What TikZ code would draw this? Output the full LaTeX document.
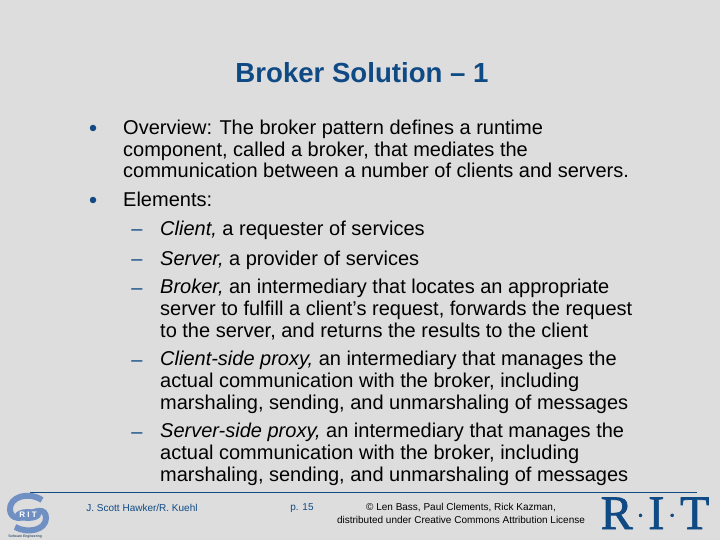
\documentclass[tikz,border=0pt]{standalone}
\usepackage{fontspec}
\setmainfont{Liberation Sans}
\newfontfamily\ritfont[FakeBold=1.5]{Liberation Serif}
\definecolor{slidebg}{HTML}{DDDDDD}
\definecolor{ritblue}{HTML}{104A85}
\definecolor{logoblue}{HTML}{7090C4}
\newcommand{\bodyfont}{\fontsize{20}{21.6}\selectfont}
\newcommand{\footfont}{\fontsize{10}{12.5}\selectfont}
\newcommand{\ritdot}{\hspace{3.5pt}\raisebox{5pt}{\fontsize{26}{26}\selectfont·}\hspace{3.5pt}}
\tikzset{
  bodytext/.style = {anchor=base west, inner sep=0pt, align=left, font=\bodyfont, text=black},
  foottext/.style = {anchor=base, inner sep=0pt, align=center, font=\footfont},
  dotmark/.style = {circle, fill=ritblue, inner sep=0pt, minimum size=6.5pt},
  dashmark/.style = {anchor=base, inner sep=0pt, font=\bodyfont, text=ritblue}
}
\begin{document}
\begin{tikzpicture}[x=1pt, y=-1pt]
  \useasboundingbox[fill=slidebg] (0,0) rectangle (720,540);
  \node[anchor=base, inner sep=0pt, font=\fontsize{27.6}{30}\selectfont\bfseries, text=ritblue] (title) at (362,83) {Broker Solution -- 1};
  % first level
  \node[dotmark] (dot1) at (93,128) {};
  \node[bodytext] (overview) at (123,178) {Overview: The broker pattern defines a runtime\\component, called a broker, that mediates the\\communication between a number of clients and servers.};
  \node[dotmark] (dot2) at (93,200) {};
  \node[bodytext] (elements) at (123,207) {Elements:};
  % second level
  \node[dashmark] (dash1) at (137,236) {--};
  \node[bodytext] (client) at (160,236) {\textit{Client,} a requester of services};
  \node[dashmark] (dash2) at (137,265) {--};
  \node[bodytext] (server) at (160,265) {\textit{Server,} a provider of services};
  \node[dashmark] (dash3) at (137,294) {--};
  \node[bodytext] (broker) at (160,337) {\textit{Broker,} an intermediary that locates an appropriate\\server to fulfill a client’s request, forwards the request\\to the server, and returns the results to the client};
  \node[dashmark] (dash4) at (137,366) {--};
  \node[bodytext] (cproxy) at (160,409) {\textit{Client-side proxy,} an intermediary that manages the\\actual communication with the broker, including\\marshaling, sending, and unmarshaling of messages};
  \node[dashmark] (dash5) at (137,438) {--};
  \node[bodytext] (sproxy) at (160,481) {\textit{Server-side proxy,} an intermediary that manages the\\actual communication with the broker, including\\marshaling, sending, and unmarshaling of messages};
  % footer
  \draw[ritblue, line width=1pt] (30,492.5) -- (697,492.5);
  \node[foottext, text=ritblue] (names) at (142,511) {J. Scott Hawker/R. Kuehl};
  \node[foottext, text=ritblue] (page) at (302,510) {p. 15};
  \node[foottext, text=black] (copyright) at (461,523) {© Len Bass, Paul Clements, Rick Kazman,\\distributed under Creative Commons Attribution License};
  \node[anchor=base, inner sep=0pt, font=\ritfont\fontsize{48}{48}\selectfont, text=ritblue] (ritmark) at (655,529) {R\ritdot I\ritdot T};
  % logo
  \draw[logoblue, line width=6pt] (42,500) .. controls (28,491) and (9,497) .. (10,510) .. controls (11,520) and (22,519) .. (28,515) .. controls (34,511) and (46,507) .. (46,518) .. controls (46,530) and (28,534) .. (15,527);
  \fill[logoblue] (28,515) ellipse (13 and 6);
  \node[inner sep=0pt, font=\fontsize{8}{8}\selectfont\bfseries, text=white] (ritsmall) at (28,515) {R I T};
  \node[inner sep=0pt, font=\fontsize{3.5}{4}\selectfont, text=ritblue!60!black] (se) at (25,537) {Software Engineering};
\end{tikzpicture}
\end{document}
